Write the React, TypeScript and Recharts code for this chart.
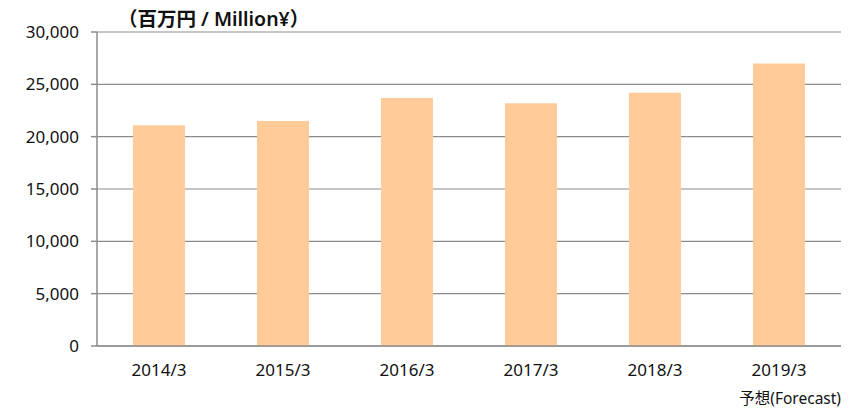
import { Bar, BarChart, CartesianGrid, XAxis, YAxis } from 'recharts'

const periods = ['2014/3', '2015/3', '2016/3', '2017/3', '2018/3', '2019/3']
const sales = [21100, 21500, 23700, 23200, 24200, 27000]
const yTicks = [0, 5000, 10000, 15000, 20000, 25000, 30000]
const edgeTicks = [0, 1, 2, 3, 4, 5, 6]

const unitLabel = '（百万円 / Million¥）'
const forecastLabel = '予想(Forecast)'

const font = '"Noto Sans", "Noto Sans CJK JP", sans-serif'
const axisGray = '#8c8c8c'

export default function App() {
  const chartData = periods.map((period, i) => ({ period, value: sales[i] }))

  return (
    <div
      style={{
        position: 'absolute',
        left: 0,
        top: 0,
        width: 852,
        height: 409,
        background: '#fff',
        fontFamily: font,
      }}
    >
      <BarChart
        data={chartData}
        height={409}
        width={852}
        margin={{ top: 32, right: 11, bottom: 0, left: 0 }}
        barCategoryGap="29%"
      >
        <CartesianGrid stroke={axisGray} strokeWidth={1.2} vertical={false} />
        <XAxis
          xAxisId="edge"
          type="number"
          domain={[0, 6]}
          ticks={edgeTicks}
          tick={false}
          axisLine={false}
          tickLine={{ stroke: axisGray, strokeWidth: 1.5 }}
          tickSize={6}
          height={0}
        />
        <XAxis
          xAxisId="cat"
          dataKey="period"
          height={63}
          axisLine={{ stroke: axisGray, strokeWidth: 1.5 }}
          tickLine={false}
          tickSize={0}
          tickMargin={18}
          tick={{ fill: '#111', fontSize: 17, fontFamily: font }}
        />
        <YAxis
          domain={[0, 30000]}
          ticks={yTicks}
          width={97}
          axisLine={{ stroke: axisGray, strokeWidth: 1.5 }}
          tickLine={{ stroke: axisGray, strokeWidth: 1.5 }}
          tickSize={6}
          tickMargin={12}
          tick={{ fill: '#111', fontSize: 17, fontFamily: font }}
          tickFormatter={(v) => Number(v).toLocaleString('en-US')}
        />
        <Bar dataKey="value" xAxisId="cat" fill="#FFCC99" isAnimationActive={false} />
      </BarChart>
      <div
        style={{
          position: 'absolute',
          left: 118,
          top: 3,
          fontSize: 19.5,
          fontWeight: 600,
          color: '#111',
          whiteSpace: 'nowrap',
        }}
      >
        {unitLabel}
      </div>
      <div
        style={{
          position: 'absolute',
          right: 11,
          top: 386,
          fontSize: 15.5,
          color: '#111',
          whiteSpace: 'nowrap',
        }}
      >
        {forecastLabel}
      </div>
    </div>
  )
}
